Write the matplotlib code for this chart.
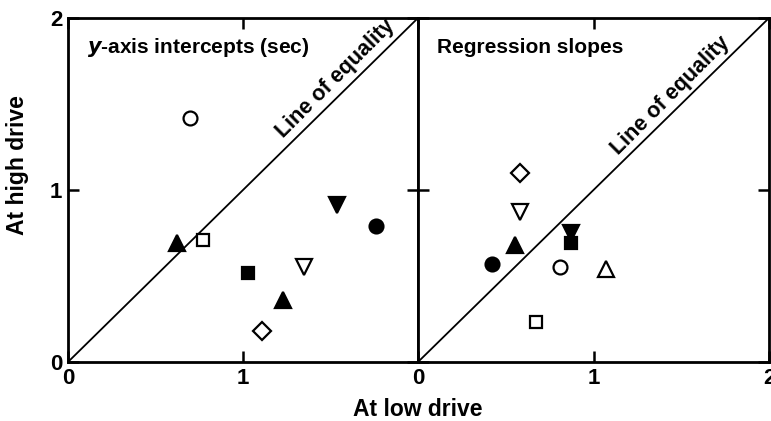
import matplotlib.pyplot as plt

plt.rcParams['font.family'] = ['Liberation Sans', 'DejaVu Sans']
plt.rcParams['font.weight'] = 'bold'

# y-axis intercepts (sec): low drive, high drive
int_markers = ['o', '^', 's', 's', 'v', '^', 'D', 'v', 'o']
int_filled = [False, True, False, True, False, True, False, True, True]
int_low = [0.70, 0.62, 0.77, 1.03, 1.35, 1.23, 1.11, 1.54, 1.76]
int_high = [1.42, 0.69, 0.71, 0.52, 0.55, 0.36, 0.18, 0.91, 0.79]

# regression slopes: low drive, high drive
slope_markers = ['D', 'v', '^', 'o', 'v', 's', 'o', '^', 's']
slope_filled = [False, False, True, True, True, True, False, False, False]
slope_low = [0.58, 0.58, 0.55, 0.42, 0.87, 0.87, 0.81, 1.07, 0.67]
slope_high = [1.10, 0.87, 0.68, 0.57, 0.75, 0.69, 0.55, 0.54, 0.23]

fig = plt.figure(figsize=(7.71, 4.21), dpi=100)
ax1 = fig.add_axes([68 / 771, 1 - 362 / 421, 350 / 771, 344 / 421])
ax2 = fig.add_axes([418 / 771, 1 - 362 / 421, 351 / 771, 344 / 421])

sizes = {'o': 10, '^': 11, 'v': 11, 's': 8, 'D': 9}


def draw(ax, low, high, markers, filled, title, label_xy):
    ax.plot([0, 2], [0, 2], color='black', lw=1.3, zorder=1)
    for x, y, m, f in zip(low, high, markers, filled):
        ax.plot(x, y, marker=m, ms=sizes[m], mec='black', mew=1.6,
                mfc='black' if f else 'white', ls='none', zorder=3)
    ax.set_xlim(0, 2)
    ax.set_ylim(0, 2)
    for s in ax.spines.values():
        s.set_linewidth(2)
    ax.tick_params(direction='in', length=8, width=1.8, top=True, right=True,
                   labelsize=16, pad=4)
    ax.text(0.11, 1.83, title, fontsize=15, fontweight='bold', va='center', ha='left')
    ax.text(label_xy[0], label_xy[1], 'Line of equality', fontsize=15.5, fontweight='bold',
            rotation=45, ha='center', va='center', rotation_mode='anchor')


draw(ax1, int_low, int_high, int_markers, int_filled,
     r'$\mathit{y}$-axis intercepts (sec)', (1.53, 1.65))
draw(ax2, slope_low, slope_high, slope_markers, slope_filled,
     'Regression slopes', (1.44, 1.55))

ax1.set_xticks([0, 1, 2])
ax1.set_xticklabels(['0', '1', ''])
ax1.set_yticks([0, 1, 2])
ax1.set_yticklabels(['0', '1', '2'])
ax2.set_xticks([0, 1, 2])
ax2.set_xticklabels(['0', '1', '2'])
ax2.set_yticks([0, 1, 2])
ax2.set_yticklabels([])

fig.text(18 / 771, 1 - 165 / 421, 'At high drive', fontsize=16.5, fontweight='bold',
         rotation=90, ha='center', va='center')
fig.text(418 / 771, 1 - 410 / 421, 'At low drive', fontsize=16.5, fontweight='bold',
         ha='center', va='center')

fig.savefig('out.png', dpi=100)
